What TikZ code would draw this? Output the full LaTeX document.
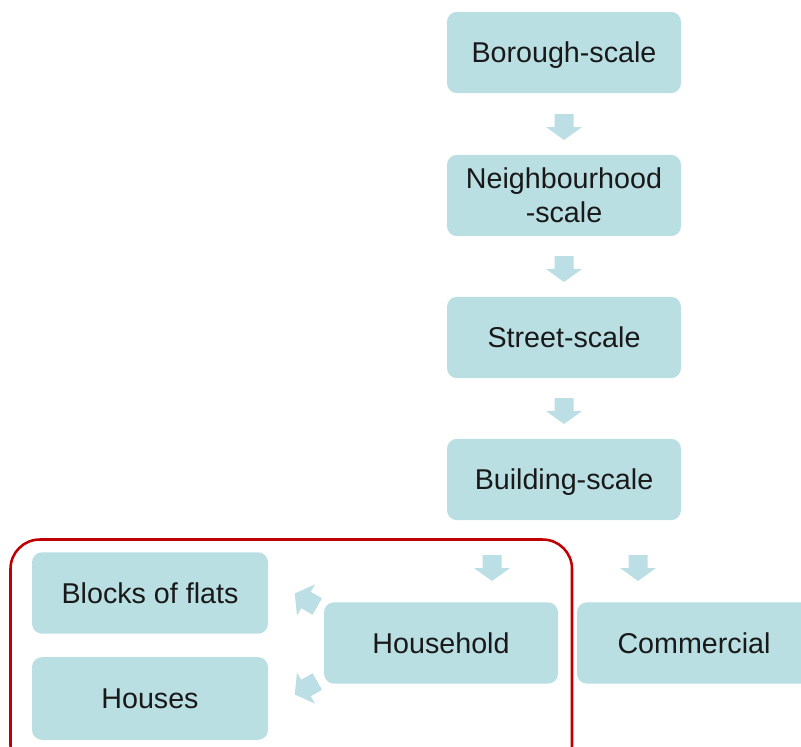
\documentclass[tikz,border=0pt]{standalone}
\usepackage{fontspec}
\setmainfont{Liberation Sans}
\definecolor{boxfill}{HTML}{B9DFE3}
\definecolor{arrfill}{HTML}{BBDFE4}
\definecolor{frame}{HTML}{C00000}
\tikzset{
  scalebox/.style={fill=boxfill, rounded corners=7.5pt, minimum width=175.5pt, minimum height=61pt,
    inner sep=0pt, align=center, font=\fontsize{21.5}{25.5}\selectfont, text=black!90},
  oneline/.style={text depth=0pt, text height=15.5pt},
  blockarrow/.pic={
    \fill[arrfill] (-9.5,-13) -- (9.5,-13) -- (9.5,0) -- (18,0) -- (0,13) -- (-18,0) -- (-9.5,0) -- cycle;
  }
}
\begin{document}
\begin{tikzpicture}[x=0.75pt,y=-0.75pt]
\useasboundingbox (0,0) rectangle (801,747);
\clip (0,0) rectangle (801,747);
\node[scalebox, oneline] (borough) at (564,52.5) {Borough-scale};
\node[scalebox] (neigh) at (564,195.5) {Neighbourhood\\-scale};
\node[scalebox, oneline] (street) at (564,337.5) {Street-scale};
\node[scalebox, oneline] (building) at (564,479.5) {Building-scale};
\node[scalebox, oneline] (household) at (441,643) {Household};
\node[scalebox, oneline] (commercial) at (694,643) {Commercial};
\node[scalebox, oneline, minimum width=177pt] (flats) at (150,593) {Blocks of flats};
\node[scalebox, oneline, minimum width=177pt, minimum height=62pt] (houses) at (150,698.5) {Houses};
\pic at (564,127) {blockarrow};
\pic at (564,269) {blockarrow};
\pic at (564,411) {blockarrow};
\pic at (492,568) {blockarrow};
\pic at (638,568) {blockarrow};
\pic[rotate=-120] at (306,600) {blockarrow};
\pic[rotate=-60] at (306,688) {blockarrow};
\draw[frame, line width=1.9pt, rounded corners=22pt] (10.5,539.5) rectangle (572,775);
\end{tikzpicture}
\end{document}
